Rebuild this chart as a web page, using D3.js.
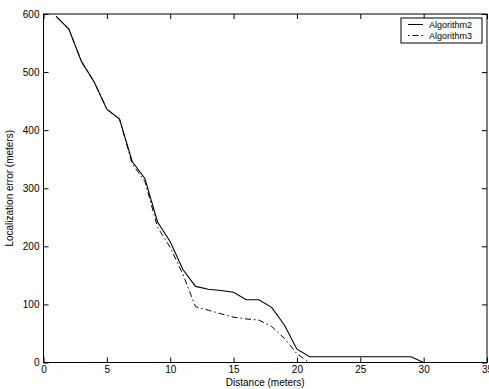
<!DOCTYPE html>
<html>
<head>
<meta charset="utf-8">
<script src="https://cdn.jsdelivr.net/npm/d3@7"></script>
<style>
  html, body { margin: 0; padding: 0; background: #fff; }
  svg { display: block; font-family: "Liberation Sans", Arial, sans-serif; }
</style>
</head>
<body>
<div id="chart"></div>
<script>
// data
const distance = [1, 2, 3, 4, 5, 6, 7, 8, 9, 10, 11, 12, 13, 14, 15, 16, 17, 18, 19, 20, 21, 22, 23, 24, 25, 26, 27, 28, 29, 30];
const algorithm2 = [596, 574, 518, 483, 436, 419, 346, 317, 242, 208, 160, 131, 126, 124, 121, 108, 108, 95, 65, 23, 10, 10, 10, 10, 10, 10, 10, 10, 10, 0];
const distance3 = [1, 2, 3, 4, 5, 6, 7, 8, 9, 10, 11, 12, 13, 14, 15, 16, 17, 18, 19, 20, 21];
const algorithm3 = [596, 574, 518, 483, 436, 419, 342, 312, 233, 198, 152, 96, 90, 84, 78, 75, 73, 62, 42, 15, 0];
const xTicks = [0, 5, 10, 15, 20, 25, 30, 35];
const yTicks = [0, 100, 200, 300, 400, 500, 600];
const seriesNames = ['Algorithm2', 'Algorithm3'];

const W = 489, H = 389;
const margin = { top: 14, right: 2, bottom: 26.5, left: 43.5 };
const width = W - margin.left - margin.right;
const height = H - margin.top - margin.bottom;

const svg = d3.select('#chart').append('svg')
  .attr('width', W)
  .attr('height', H);

const g = svg.append('g')
  .attr('transform', `translate(${margin.left},${margin.top})`);

const x = d3.scaleLinear().domain([0, 35]).range([0, width]);
const y = d3.scaleLinear().domain([0, 600]).range([height, 0]);

// axes, matlab style: ticks inside on all four sides
g.append('g')
  .attr('transform', `translate(0,${height})`)
  .call(d3.axisBottom(x).tickValues(xTicks).tickSizeInner(-5).tickSizeOuter(0).tickPadding(3))
  .call(a => a.select('.domain').remove());
g.append('g')
  .call(d3.axisTop(x).tickValues(xTicks).tickSizeInner(-5).tickSizeOuter(0).tickFormat(''))
  .call(a => a.select('.domain').remove());
g.append('g')
  .call(d3.axisLeft(y).tickValues(yTicks).tickSizeInner(-5).tickSizeOuter(0).tickPadding(4))
  .call(a => a.select('.domain').remove());
g.append('g')
  .attr('transform', `translate(${width},0)`)
  .call(d3.axisRight(y).tickValues(yTicks).tickSizeInner(-5).tickSizeOuter(0).tickFormat(''))
  .call(a => a.select('.domain').remove());

g.selectAll('.tick line').attr('stroke', '#000');
g.selectAll('.tick text').attr('fill', '#000').style('font-size', '10px');

g.append('rect')
  .attr('width', width)
  .attr('height', height)
  .attr('fill', 'none')
  .attr('stroke', '#000')
  .attr('stroke-width', 1);

const line = d3.line()
  .x(d => x(d[0]))
  .y(d => y(d[1]));

g.append('path')
  .datum(distance.map((d, i) => [d, algorithm2[i]]))
  .attr('d', line)
  .attr('fill', 'none')
  .attr('stroke', '#000')
  .attr('stroke-width', 1.1);

g.append('path')
  .datum(distance3.map((d, i) => [d, algorithm3[i]]))
  .attr('d', line)
  .attr('fill', 'none')
  .attr('stroke', '#000')
  .attr('stroke-width', 1)
  .attr('stroke-dasharray', '6,3,1.5,3');

// axis labels
svg.append('text')
  .attr('x', margin.left + width / 2)
  .attr('y', 386)
  .attr('text-anchor', 'middle')
  .style('font-size', '10px')
  .text('Distance (meters)');

svg.append('text')
  .attr('transform', `translate(13,${margin.top + height / 2}) rotate(-90)`)
  .attr('text-anchor', 'middle')
  .style('font-size', '10px')
  .text('Localization error (meters)');

// legend
const legend = svg.append('g').attr('transform', 'translate(401,18)');
legend.append('rect')
  .attr('width', 81)
  .attr('height', 25)
  .attr('fill', '#fff')
  .attr('stroke', '#000');
seriesNames.forEach((name, i) => {
  const row = legend.append('g').attr('transform', `translate(0,${6.5 + i * 11})`);
  row.append('line')
    .attr('x1', 7).attr('x2', 22)
    .attr('stroke', '#000')
    .attr('stroke-dasharray', i === 1 ? '1.5,3,6,3' : null);
  row.append('text')
    .attr('x', 28)
    .attr('dy', '0.35em')
    .style('font-size', '9px')
    .text(name);
});
</script>
</body>
</html>
